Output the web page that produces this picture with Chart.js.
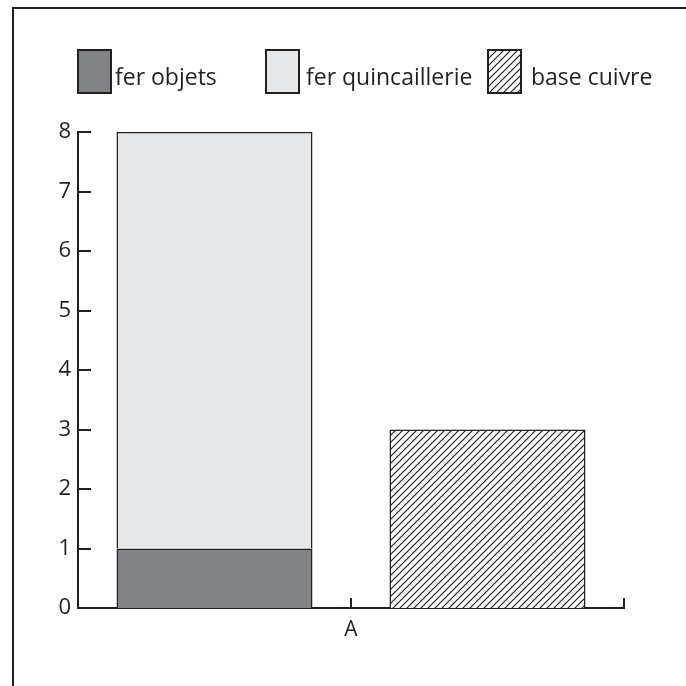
<!DOCTYPE html>
<html>
<head>
<meta charset="utf-8">
<script src="https://cdn.jsdelivr.net/npm/chart.js@4.4.1/dist/chart.umd.min.js"></script>
<style>
  html, body { margin: 0; padding: 0; background: #fff; }
  #wrap { position: relative; width: 686px; height: 686px; overflow: hidden; }
  #frame { position: absolute; left: 12px; top: 7px; width: 700px; height: 700px;
           border-left: 2px solid #231f20; border-top: 2px solid #231f20; }
  #chart { position: absolute; left: 0; top: 0; }
  .leg { position: absolute; top: 49px; height: 45px; display: flex; align-items: center;
         font-family: 'Open Sans', sans-serif; font-size: 23px; color: #231f20; }
  .leg .box { width: 31px; height: 41px; border: 2px solid #231f20; box-sizing: content-box; }
  .leg span { position: relative; top: 4px; }
</style>
</head>
<body>
<div id="wrap">
  <div id="frame"></div>
  <canvas id="chart" width="686" height="686"></canvas>
  <div id="legend"></div>
</div>
<script>
/* ============================================================
   DATA
   ============================================================ */

const categories  = ['A'];
const ferObjets   = [1];
const ferQuinc    = [7];
const baseCuivre  = [3];
const yTicks      = [0, 1, 2, 3, 4, 5, 6, 7, 8];

const INK = '#231f20';

/* ============================================================
   HATCH PATTERN
   ============================================================ */

function makeHatch() {
  const c = document.createElement('canvas');
  c.width = 7; c.height = 7;
  const g = c.getContext('2d');
  g.fillStyle = '#fff';
  g.fillRect(0, 0, 7, 7);
  g.strokeStyle = INK;
  g.lineWidth = 1.2;
  g.beginPath();
  g.moveTo(-1, 8); g.lineTo(8, -1);
  g.moveTo(-1, 1); g.lineTo(1, -1);
  g.moveTo(6, 8);  g.lineTo(8, 6);
  g.stroke();
  return c;
}

const hatchCanvas = makeHatch();
const ctx = document.getElementById('chart').getContext('2d');
const hatch = ctx.createPattern(hatchCanvas, 'repeat');

/* inward tick marks on both axes */
const innerTicks = {
  id: 'innerTicks',
  afterDraw(chart) {
    const { ctx, scales: { x, y } } = chart;
    ctx.save();
    ctx.strokeStyle = INK;
    ctx.lineWidth = 2;
    ctx.beginPath();
    y.ticks.forEach((t, i) => {
      const py = Math.round(y.getPixelForTick(i));
      ctx.moveTo(y.right, py);
      ctx.lineTo(y.right + 13, py);
    });
    const xs = [x.getPixelForTick(0), x.right];
    xs.forEach(px => {
      px = Math.round(px);
      ctx.moveTo(px, x.top + 1);
      ctx.lineTo(px, x.top - 10);
    });
    ctx.stroke();
    ctx.restore();
  }
};

/* ============================================================
   CHART
   ============================================================ */

const chart = new Chart(ctx, {
  type: 'bar',
  data: {
    labels: categories,
    datasets: [
      { label: 'fer objets',        data: ferObjets,  stack: 's1', backgroundColor: '#808285', borderColor: INK, borderWidth: 1.5 },
      { label: 'fer quincaillerie', data: ferQuinc,   stack: 's1', backgroundColor: '#e6e7e8', borderColor: INK, borderWidth: 1.5 },
      { label: 'base cuivre',       data: baseCuivre, stack: 's2', backgroundColor: hatch,     borderColor: INK, borderWidth: 1.5 },
    ],
  },
  options: {
    responsive: false,
    animation: false,
    events: [],
    categoryPercentage: 1.0,
    barPercentage: 0.718,
    layout: { padding: { left: 18, top: 132, right: 62, bottom: 38 } },
    plugins: { legend: { display: false }, tooltip: { enabled: false } },
    scales: {
      x: {
        stacked: true,
        grid: { display: false, drawTicks: false },
        border: { display: true, color: INK, width: 2 },
        ticks: { color: INK, padding: 9, font: { family: "'Open Sans', sans-serif", size: 21 } },
        afterFit: s => { s.height = 40; },
      },
      y: {
        stacked: true,
        min: yTicks[0],
        max: yTicks[yTicks.length - 1],
        afterBuildTicks: s => { s.ticks = yTicks.map(v => ({ value: v })); },
        grid: { display: false, drawTicks: false },
        border: { display: true, color: INK, width: 2 },
        ticks: { color: INK, padding: 7, font: { family: "'Open Sans', sans-serif", size: 22 } },
        afterFit: s => { s.width = 60; },
      },
    },
  },
  plugins: [innerTicks],
});

/* ============================================================
   LEGEND
   ============================================================ */

const legendLeft = [77, 265, 487];
const legendGap  = [3, 6, 9];
const hatchUrl   = hatchCanvas.toDataURL();

document.getElementById('legend').innerHTML = chart.data.datasets.map((ds, i) => {
  const bg = typeof ds.backgroundColor === 'string'
    ? `background:${ds.backgroundColor}`
    : `background-image:url(${hatchUrl})`;
  return `
    <div class="leg" style="left:${legendLeft[i]}px">
      <div class="box" style="${bg}"></div>
      <span style="margin-left:${legendGap[i]}px">${ds.label}</span>
    </div>`;
}).join('');
</script>
</body>
</html>
